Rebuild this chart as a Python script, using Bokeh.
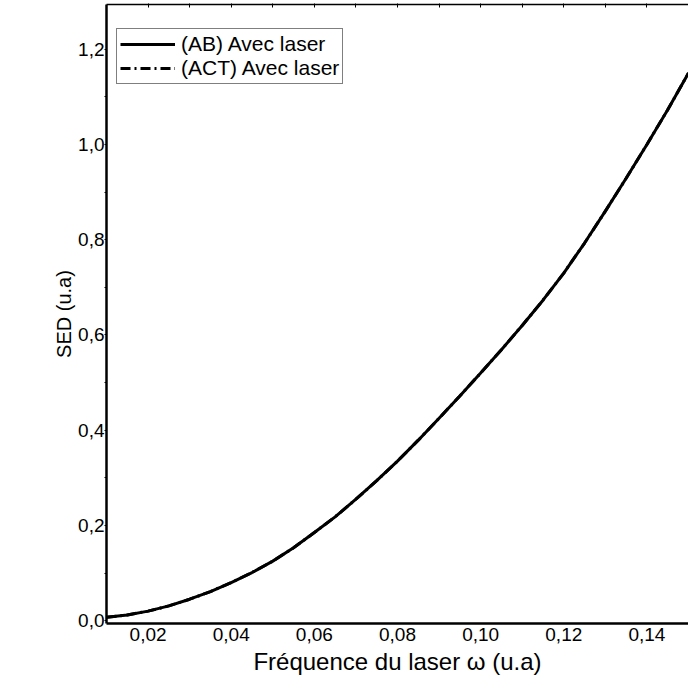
from bokeh.plotting import figure
from bokeh.models import Range1d, FixedTicker, LinearAxis, Legend, LegendItem, ColumnDataSource
from bokeh.embed import file_html
from bokeh.resources import INLINE

# Data
omega = [0.010, 0.015, 0.020, 0.025, 0.030, 0.035, 0.040, 0.045, 0.050, 0.055,
         0.060, 0.065, 0.070, 0.075, 0.080, 0.085, 0.090, 0.095, 0.100, 0.105,
         0.110, 0.115, 0.120, 0.125, 0.130, 0.135, 0.140, 0.145, 0.150]
sed_ab = [0.007, 0.012, 0.020, 0.031, 0.045, 0.061, 0.080, 0.101, 0.125, 0.153,
          0.185, 0.218, 0.255, 0.294, 0.335, 0.379, 0.425, 0.472, 0.520, 0.569,
          0.620, 0.673, 0.730, 0.793, 0.860, 0.929, 1.000, 1.073, 1.150]
sed_act = [0.007, 0.012, 0.020, 0.031, 0.045, 0.061, 0.080, 0.101, 0.125, 0.153,
           0.185, 0.218, 0.255, 0.294, 0.335, 0.379, 0.425, 0.472, 0.520, 0.569,
           0.620, 0.673, 0.730, 0.793, 0.860, 0.929, 1.000, 1.073, 1.150]

x_ticks = [0.02, 0.04, 0.06, 0.08, 0.10, 0.12, 0.14]
x_tick_labels = ["0,02", "0,04", "0,06", "0,08", "0,10", "0,12", "0,14"]
y_ticks = [0.0, 0.2, 0.4, 0.6, 0.8, 1.0, 1.2]
y_tick_labels = ["0,0", "0,2", "0,4", "0,6", "0,8", "1,0", "1,2"]
y_minor = [0.1, 0.3, 0.5, 0.7, 0.9, 1.1]
top_ticks = [0.02, 0.03, 0.04, 0.05, 0.06, 0.07, 0.08, 0.09, 0.10, 0.11, 0.12, 0.13, 0.14]

labels = ["(AB) Avec laser", "(ACT) Avec laser"]
x_title = "Fréquence du laser ω (u.a)"
y_title = "SED (u.a)"

FONT = "Liberation Sans"

p = figure(width=688, height=679, output_backend="svg", toolbar_location=None,
           x_range=Range1d(0.01, 0.15), y_range=Range1d(-0.006, 1.294),
           min_border_left=106, min_border_right=0, min_border_top=4,
           min_border_bottom=56, x_axis_label=x_title, y_axis_label=y_title)
p.outline_line_color = None
p.xgrid.visible = False
p.ygrid.visible = False
p.background_fill_color = "white"
p.border_fill_color = "white"

src = ColumnDataSource(dict(x=omega, ab=sed_ab, act=sed_act))
r_act = p.line("x", "act", source=src, line_color="black", line_width=3, line_dash="10 4 2 4")
r_ab = p.line("x", "ab", source=src, line_color="black", line_width=3)

xa = p.xaxis[0]
xa.ticker = FixedTicker(ticks=x_ticks)
xa.major_label_overrides = {t: l for t, l in zip(x_ticks, x_tick_labels)}
xa.axis_line_width = 2.5
xa.axis_line_color = "black"
xa.major_tick_out = 0
xa.major_tick_in = 0
xa.minor_tick_out = 0
xa.minor_tick_in = 0
xa.major_label_standoff = 4
xa.major_label_text_font = FONT
xa.major_label_text_font_size = "19px"
xa.major_label_text_color = "black"
xa.axis_label_text_font = FONT
xa.axis_label_text_font_size = "24px"
xa.axis_label_text_font_style = "normal"
xa.axis_label_text_color = "black"
xa.axis_label_standoff = 4

ya = p.yaxis[0]
ya.ticker = FixedTicker(ticks=y_ticks, minor_ticks=y_minor)
ya.major_label_overrides = {t: l for t, l in zip(y_ticks, y_tick_labels)}
ya.axis_line_width = 2.5
ya.axis_line_color = "black"
ya.major_tick_out = 2
ya.major_tick_in = 0
ya.minor_tick_out = 2
ya.minor_tick_in = 0
ya.major_label_standoff = 0
ya.major_label_text_font = FONT
ya.major_label_text_font_size = "19px"
ya.major_label_text_color = "black"
ya.axis_label_text_font = FONT
ya.axis_label_text_font_size = "20px"
ya.axis_label_text_font_style = "normal"
ya.axis_label_text_color = "black"
ya.axis_label_standoff = 0

top = LinearAxis(ticker=FixedTicker(ticks=top_ticks), major_label_text_font_size="0px",
                 major_tick_in=3, major_tick_out=1, minor_tick_in=0, minor_tick_out=0,
                 axis_line_width=1.5, axis_line_color="black", major_label_standoff=0)
top.major_label_overrides = {t: "" for t in top_ticks}
p.add_layout(top, "above")

legend = Legend(items=[LegendItem(label=labels[0], renderers=[r_ab]),
                       LegendItem(label=labels[1], renderers=[r_act])],
                location=(10, 539), label_text_font=FONT, label_text_font_size="21px",
                label_text_color="black", glyph_width=55, glyph_height=20,
                label_height=20, padding=3, spacing=0, label_standoff=6, margin=0,
                border_line_color="black", border_line_width=1,
                background_fill_color="white", background_fill_alpha=1.0)
p.add_layout(legend)

open("out.html", "w").write(file_html(p, INLINE))
